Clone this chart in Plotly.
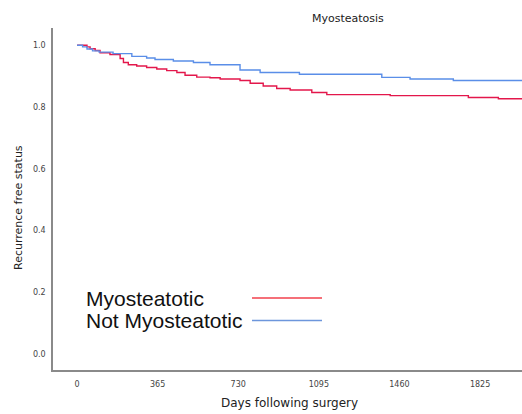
import plotly.graph_objects as go

# Kaplan-Meier style step curves: recurrence free status by muscle group
myo_days = [0, 45, 59, 82, 104, 149, 195, 210, 232, 270, 315, 361, 406, 452, 489,
            542, 602, 648, 738, 784, 843, 904, 965, 1063, 1131, 1418, 1772, 1908, 2015]
myo_surv = [1.0, 0.995, 0.989, 0.983, 0.976, 0.970, 0.957, 0.944, 0.937, 0.933, 0.928,
            0.923, 0.918, 0.912, 0.903, 0.897, 0.895, 0.891, 0.886, 0.877, 0.868, 0.860,
            0.855, 0.847, 0.840, 0.837, 0.831, 0.827, 0.827]

nonmyo_days = [0, 25, 45, 70, 100, 163, 248, 315, 353, 436, 527, 602, 738, 829, 1007,
               1380, 1508, 1704, 2015]
nonmyo_surv = [1.0, 0.995, 0.988, 0.982, 0.978, 0.973, 0.964, 0.959, 0.954, 0.949, 0.944,
               0.937, 0.920, 0.912, 0.906, 0.896, 0.891, 0.886, 0.886]

x_ticks = [0, 365, 730, 1095, 1460, 1825]
y_ticks = [0.0, 0.2, 0.4, 0.6, 0.8, 1.0]

groups = ["Myosteatotic", "Not Myosteatotic"]
line_colors = ["#e3174b", "#5a8ee8"]
key_colors = ["#f2404c", "#6d96dc"]

fig = go.Figure()
for name, xs, ys, col in [(groups[0], myo_days, myo_surv, line_colors[0]),
                          (groups[1], nonmyo_days, nonmyo_surv, line_colors[1])]:
    fig.add_trace(go.Scatter(x=xs, y=ys, mode="lines", name=name,
                             line=dict(color=col, width=1.4, shape="hv"),
                             showlegend=False))

axis_font = dict(family="DejaVu Sans", size=8, color="#444444")
fig.update_xaxes(range=[-109, 2015], tickvals=x_ticks,
                 ticktext=[str(v) for v in x_ticks],
                 showgrid=False, zeroline=False, showline=True,
                 linecolor="#8a8a8a", linewidth=1.5, ticks="",
                 tickfont=axis_font, ticklabelstandoff=6)
fig.update_yaxes(range=[-0.052, 1.056], tickvals=y_ticks,
                 ticktext=[f"{v:.1f}" for v in y_ticks],
                 showgrid=False, zeroline=False, showline=True,
                 linecolor="#8a8a8a", linewidth=1.5, ticks="",
                 tickfont=axis_font, ticklabelstandoff=4)

# Title and axis titles (pixel positions, converted to paper fractions below)
fig.add_annotation(text="Myosteatosis", x=348, y=19, showarrow=False,
                   xanchor="center", yanchor="middle",
                   font=dict(family="DejaVu Sans", size=11, color="#222222"))
fig.add_annotation(text="Days following surgery", x=289, y=403, showarrow=False,
                   xanchor="center", yanchor="middle",
                   font=dict(family="DejaVu Sans", size=12, color="#222222"))
fig.add_annotation(text="Recurrence free status", x=18, y=208, showarrow=False,
                   textangle=-90, xanchor="center", yanchor="middle",
                   font=dict(family="DejaVu Sans", size=11, color="#222222"))

# Key: labels with line samples to their right
for i, (name, col) in enumerate(zip(groups, key_colors)):
    yk = 298 + 22.5 * i
    fig.add_annotation(text=name, x=84, y=yk, xanchor="left", yanchor="middle",
                       showarrow=False,
                       font=dict(family="Liberation Sans", size=21, color="#111111"))
    fig.add_shape(type="line", x0=252, x1=322, y0=yk, y1=yk,
                  line=dict(color=col, width=1.6))

W, H = 522, 414
L, R, T, B = 53, 0, 28, 44
pw, ph = W - L - R, H - T - B
for a in fig.layout.annotations:
    a.xref = "paper"
    a.yref = "paper"
    a.x = (a.x - L) / pw
    a.y = (H - B - a.y) / ph
for s in fig.layout.shapes:
    s.xref = "paper"
    s.yref = "paper"
    s.x0 = (s.x0 - L) / pw
    s.x1 = (s.x1 - L) / pw
    s.y0 = (H - B - s.y0) / ph
    s.y1 = (H - B - s.y1) / ph

fig.update_layout(width=W, height=H, margin=dict(l=L, r=R, t=T, b=B),
                  plot_bgcolor="white", paper_bgcolor="white")

fig.write_html("out.html")
